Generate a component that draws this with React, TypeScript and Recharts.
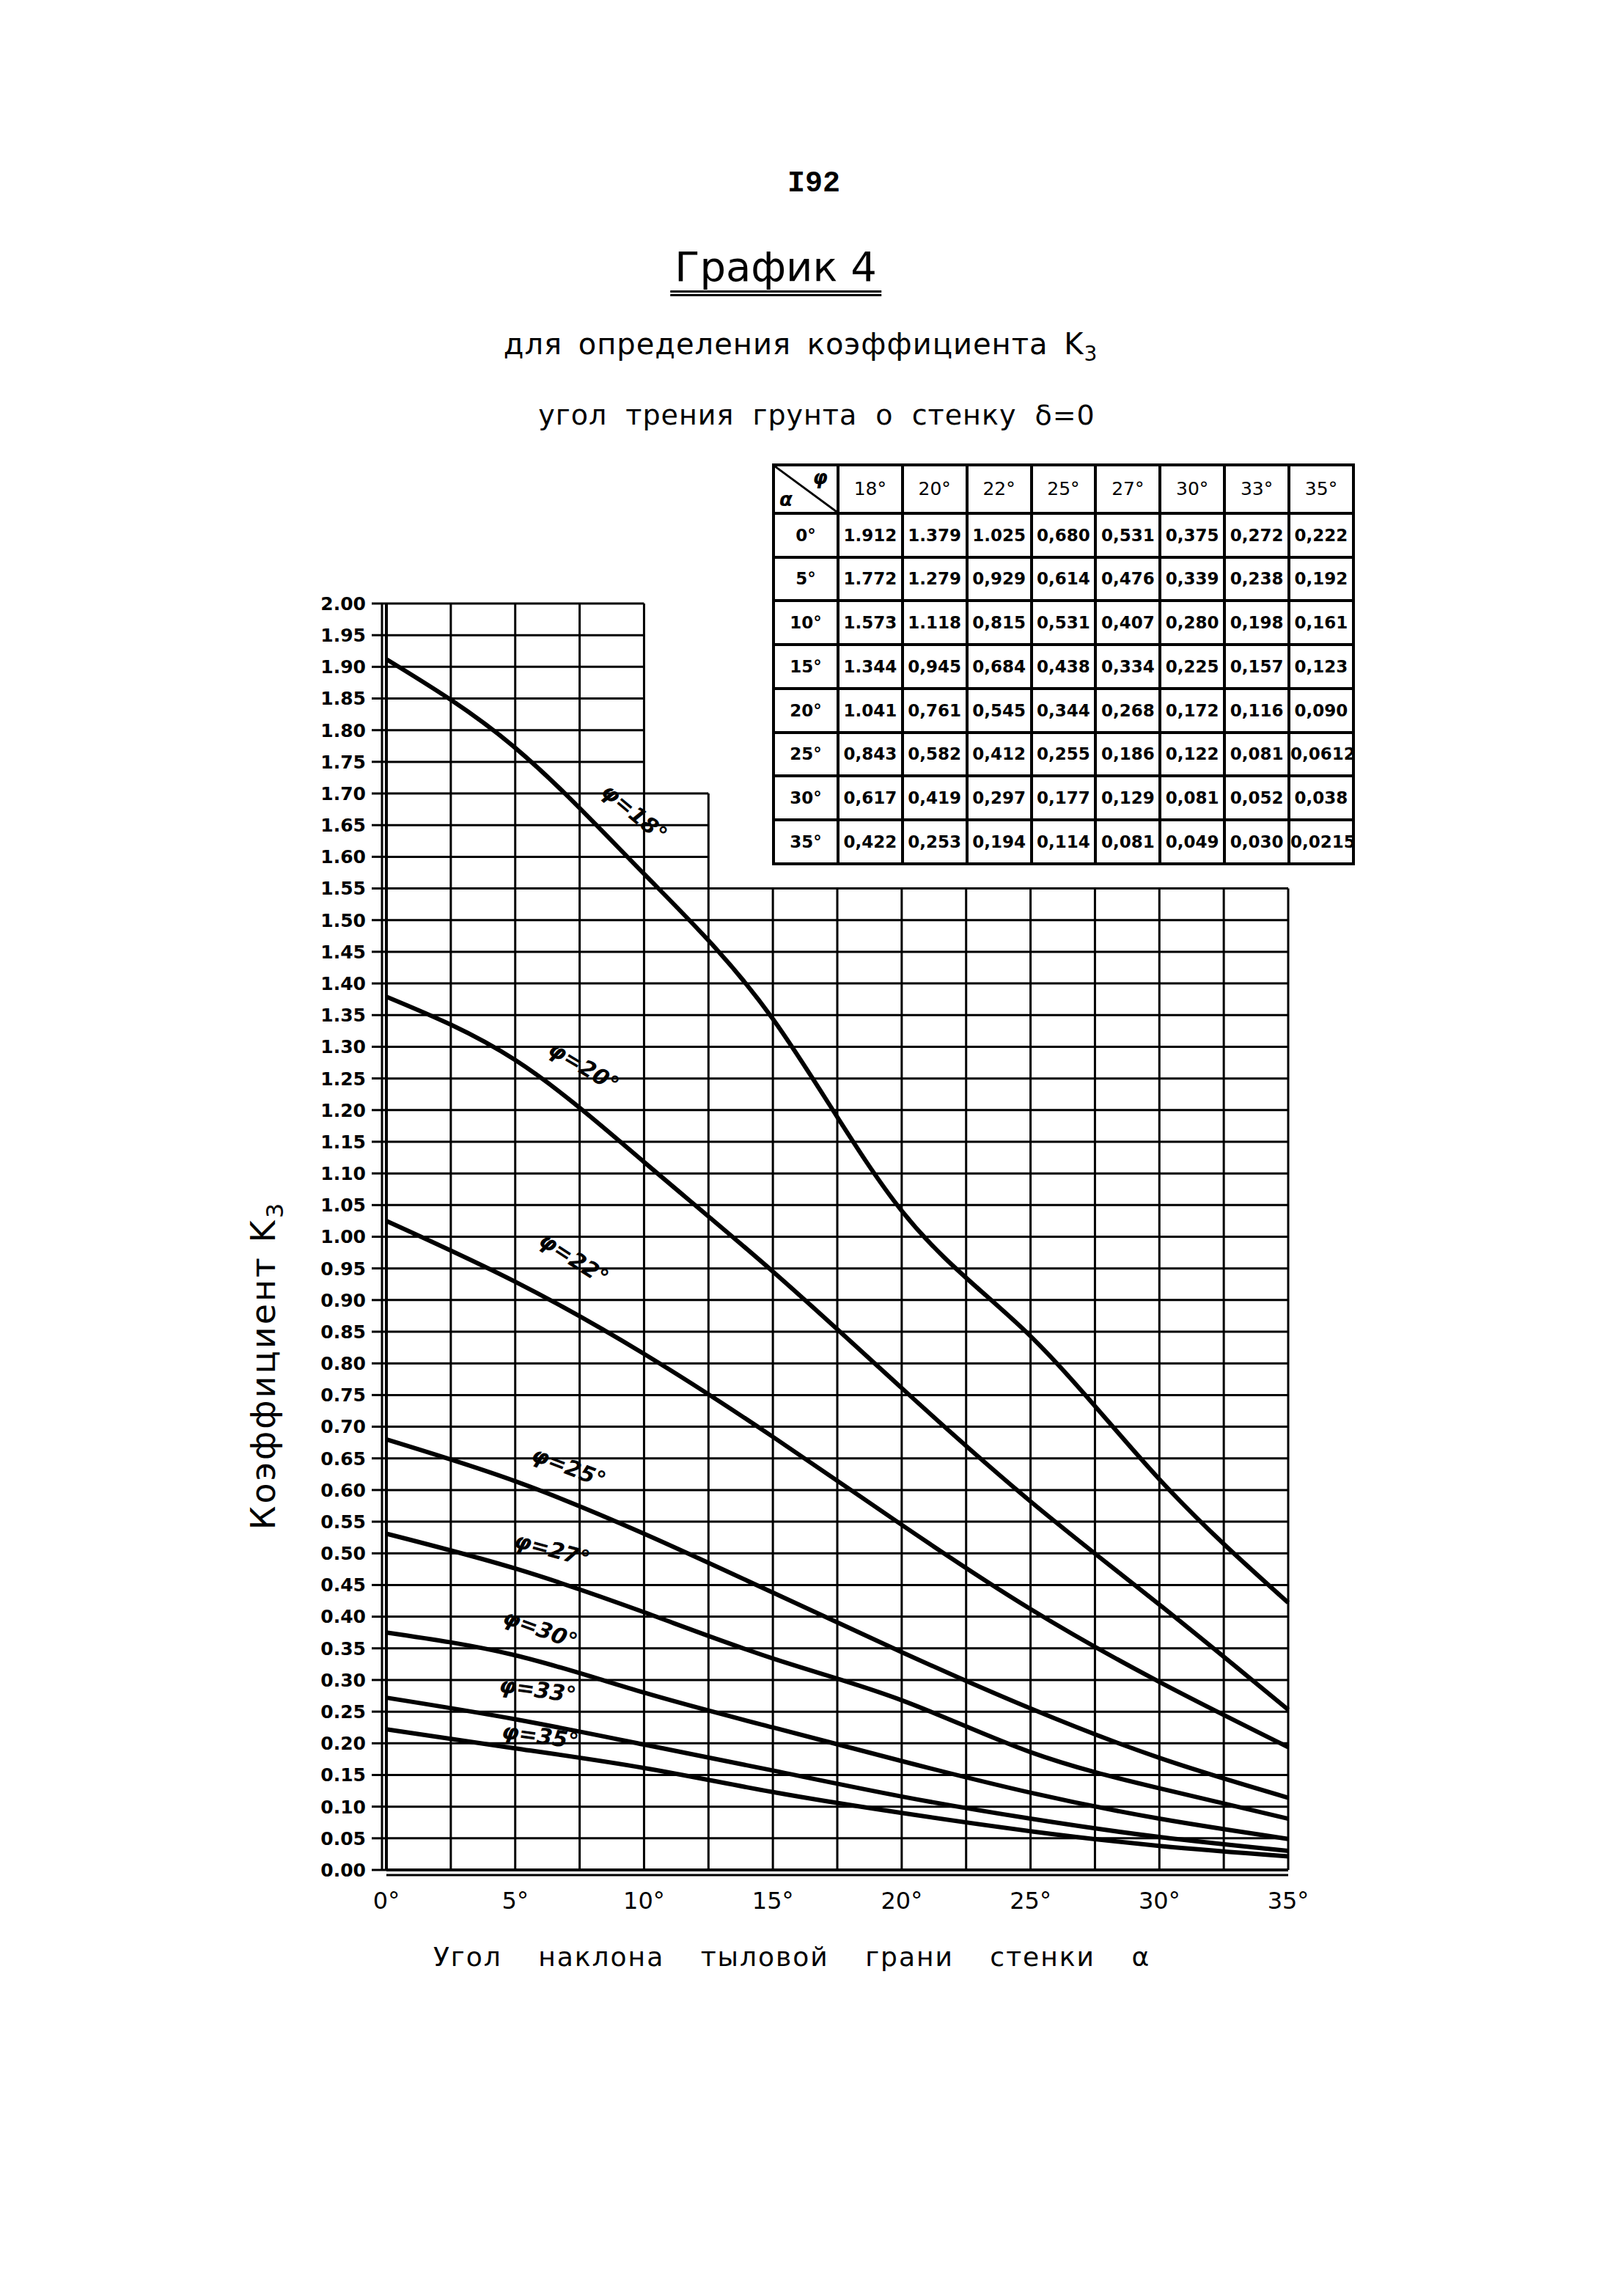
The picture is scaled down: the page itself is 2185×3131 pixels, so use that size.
import React from "react";
import { LineChart, Line, XAxis, YAxis, ReferenceLine, ReferenceDot } from "recharts";

// angle of the back face of the wall, degrees
const alphaDeg = [0, 5, 10, 15, 20, 25, 30, 35];
// soil friction angle phi (one curve per value)
const phiNames = ["18°", "20°", "22°", "25°", "27°", "30°", "33°", "35°"];
const k18 = [1.912, 1.772, 1.573, 1.344, 1.041, 0.843, 0.617, 0.422];
const k20 = [1.379, 1.279, 1.118, 0.945, 0.761, 0.582, 0.419, 0.253];
const k22 = [1.025, 0.929, 0.815, 0.684, 0.545, 0.412, 0.297, 0.194];
const k25 = [0.68, 0.614, 0.531, 0.438, 0.344, 0.255, 0.177, 0.114];
const k27 = [0.531, 0.476, 0.407, 0.334, 0.268, 0.186, 0.129, 0.081];
const k30 = [0.375, 0.339, 0.28, 0.225, 0.172, 0.122, 0.081, 0.049];
const k33 = [0.272, 0.238, 0.198, 0.157, 0.116, 0.081, 0.052, 0.03];
const k35 = [0.222, 0.192, 0.161, 0.123, 0.09, 0.0612, 0.038, 0.0215];

const xTicks = [0, 5, 10, 15, 20, 25, 30, 35];
const xGrid = [2.5, 5, 7.5, 10, 12.5, 15, 17.5, 20, 22.5, 25, 27.5, 30, 32.5, 35];
const yTicks = [
  0, 0.05, 0.1, 0.15, 0.2, 0.25, 0.3, 0.35, 0.4, 0.45, 0.5, 0.55, 0.6, 0.65, 0.7, 0.75, 0.8, 0.85, 0.9, 0.95,
  1, 1.05, 1.1, 1.15, 1.2, 1.25, 1.3, 1.35, 1.4, 1.45, 1.5, 1.55, 1.6, 1.65, 1.7, 1.75, 1.8, 1.85, 1.9, 1.95, 2,
];

// where the curve names are written (alpha, K, tilt)
const labelAlpha = [9.3, 7.4, 7.0, 6.9, 6.3, 5.8, 5.8, 5.9];
const labelK = [1.654, 1.251, 0.948, 0.617, 0.486, 0.361, 0.264, 0.191];
const labelTilt = [40, 31, 33, 21, 15, 20, 8, 8];

const series = [k18, k20, k22, k25, k27, k30, k33, k35];
const keys = ["k18", "k20", "k22", "k25", "k27", "k30", "k33", "k35"];

const data = alphaDeg.map((a, i) => {
  const row: Record<string, number> = { alpha: a };
  keys.forEach((k, j) => (row[k] = series[j][i]));
  return row;
});

// the sheet has a stepped grid in its upper right corner
const gridTop = (a: number) => (a <= 10 ? 2 : a <= 12.5 ? 1.7 : 1.55);
const gridRight = (k: number) => (k <= 1.55 ? 35 : k <= 1.7 ? 12.5 : 10);

const font = '"DejaVu Sans", sans-serif';

function fmt(v: number) {
  const dec = (String(v).split(".")[1] || "").length;
  const s = v.toFixed(Math.max(3, dec));
  return v >= 1 ? s : s.replace(".", ",");
}

const cell: React.CSSProperties = {
  border: "4px solid #000",
  textAlign: "center",
  padding: 0,
};

function ValueTable() {
  return (
    <table
      style={{
        position: "absolute",
        left: 1053,
        top: 632,
        width: 795,
        height: 548,
        borderCollapse: "collapse",
        fontFamily: font,
        fontWeight: "bold",
        fontSize: 23,
        tableLayout: "fixed",
      }}
    >
      <tbody>
        <tr>
          <td style={{ ...cell, position: "relative" }}>
            <svg width="100%" height="100%" style={{ position: "absolute", left: 0, top: 0 }} viewBox="0 0 100 100" preserveAspectRatio="none">
              <line x1="0" y1="0" x2="100" y2="100" stroke="#000" strokeWidth="4" />
            </svg>
            <span style={{ position: "absolute", left: 6, bottom: 2, fontStyle: "italic", fontSize: 26 }}>α</span>
            <span style={{ position: "absolute", right: 12, top: 0, fontStyle: "italic", fontSize: 26 }}>φ</span>
          </td>
          {phiNames.map((p) => (
            <td key={p} style={{ ...cell, fontWeight: "normal", fontSize: 25 }}>{p}</td>
          ))}
        </tr>
        {alphaDeg.map((a, i) => (
          <tr key={a}>
            <td style={cell}>{a}°</td>
            {series.map((s, j) => (
              <td key={j} style={cell}>{fmt(s[i])}</td>
            ))}
          </tr>
        ))}
      </tbody>
    </table>
  );
}

const center: React.CSSProperties = {
  position: "absolute",
  transform: "translate(-50%, -50%)",
  whiteSpace: "nowrap",
  fontFamily: font,
  color: "#000",
};

export default function App() {
  return (
    <div style={{ position: "absolute", left: 0, top: 0, width: 2185, height: 3131, background: "#fff" }}>
      <div style={{ ...center, left: 1110, top: 250, fontFamily: '"Liberation Mono", monospace', fontSize: 40, fontWeight: "bold" }}>
        I92
      </div>
      <div
        style={{
          ...center,
          left: 1058,
          top: 368,
          fontSize: 56,
          borderBottom: "8px double #000",
          padding: "0 6px",
          lineHeight: "64px",
        }}
      >
        График 4
      </div>
      <div style={{ ...center, left: 1092, top: 472, fontSize: 40, letterSpacing: 1, wordSpacing: 8 }}>
        для определения коэффициента K<sub style={{ fontSize: "0.7em" }}>3</sub>
      </div>
      <div style={{ ...center, left: 1114, top: 566, fontSize: 38, letterSpacing: 1, wordSpacing: 12 }}>
        угол трения грунта о стенку δ=0
      </div>

      <ValueTable />

      <div style={{ ...center, left: 363, top: 1862, fontSize: 46, letterSpacing: 3, transform: "translate(-50%, -50%) rotate(-90deg)" }}>
        Коэффициент K<sub style={{ fontSize: "0.7em" }}>3</sub>
      </div>
      <div style={{ ...center, left: 1080, top: 2668, fontSize: 36, letterSpacing: 2, wordSpacing: 36 }}>
        Угол наклона тыловой грани стенки α
      </div>

      <div style={{ position: "absolute", left: 0, top: 0 }}>
        <LineChart width={2185} height={3131} data={data} margin={{ top: 823, right: 428, bottom: 554, left: 511 }}>
          <XAxis
            dataKey="alpha"
            type="number"
            domain={[0, 35]}
            ticks={xTicks}
            tickFormatter={(v) => `${v}°`}
            height={7}
            tickLine={false}
            tickSize={0}
            tickMargin={30}
            axisLine={{ stroke: "#000", strokeWidth: 4 }}
            tick={{ fill: "#000", fontSize: 32, fontFamily: font }}
            interval={0}
          />
          <XAxis
            xAxisId="outer"
            dataKey="alpha"
            type="number"
            domain={[0, 35]}
            height={20}
            tick={false}
            tickLine={false}
            axisLine={{ stroke: "#000", strokeWidth: 3 }}
          />
          <YAxis
            type="number"
            domain={[0, 2]}
            ticks={yTicks}
            tickFormatter={(v) => Number(v).toFixed(2)}
            width={6}
            tickSize={20}
            tickMargin={8}
            interval={0}
            tickLine={{ stroke: "#000", strokeWidth: 3 }}
            axisLine={{ stroke: "#000", strokeWidth: 4 }}
            tick={{ fill: "#000", fontSize: 25, fontFamily: font, fontWeight: "bold" }}
          />
          <YAxis
            yAxisId="outer"
            type="number"
            domain={[0, 2]}
            width={10}
            tick={false}
            tickLine={false}
            axisLine={{ stroke: "#000", strokeWidth: 3 }}
          />
          {xGrid.map((a) => (
            <ReferenceLine
              key={`v${a}`}
              segment={[
                { x: a, y: 0 },
                { x: a, y: gridTop(a) },
              ]}
              stroke="#000"
              strokeWidth={3}
              ifOverflow="visible"
            />
          ))}
          {yTicks
            .filter((k) => k > 0)
            .map((k) => (
              <ReferenceLine
                key={`h${k}`}
                segment={[
                  { x: 0, y: k },
                  { x: gridRight(k), y: k },
                ]}
                stroke="#000"
                strokeWidth={3}
                ifOverflow="visible"
              />
            ))}
          {keys.map((k) => (
            <Line
              key={k}
              type="natural"
              dataKey={k}
              stroke="#000"
              strokeWidth={6}
              dot={false}
              isAnimationActive={false}
            />
          ))}
          {phiNames.map((p, i) => (
            <ReferenceDot
              key={`l${p}`}
              x={labelAlpha[i]}
              y={labelK[i]}
              r={1}
              ifOverflow="visible"
              shape={(props: any) => (
                <text
                  x={props.cx}
                  y={props.cy}
                  dy={-18}
                  textAnchor="middle"
                  dominantBaseline="central"
                  transform={`rotate(${labelTilt[i]} ${props.cx} ${props.cy})`}
                  fontFamily={font}
                  fontStyle="italic"
                  fontWeight="bold"
                  fontSize={30}
                  fill="#000"
                >
                  {`φ=${p}`}
                </text>
              )}
            />
          ))}
        </LineChart>
      </div>
    </div>
  );
}
